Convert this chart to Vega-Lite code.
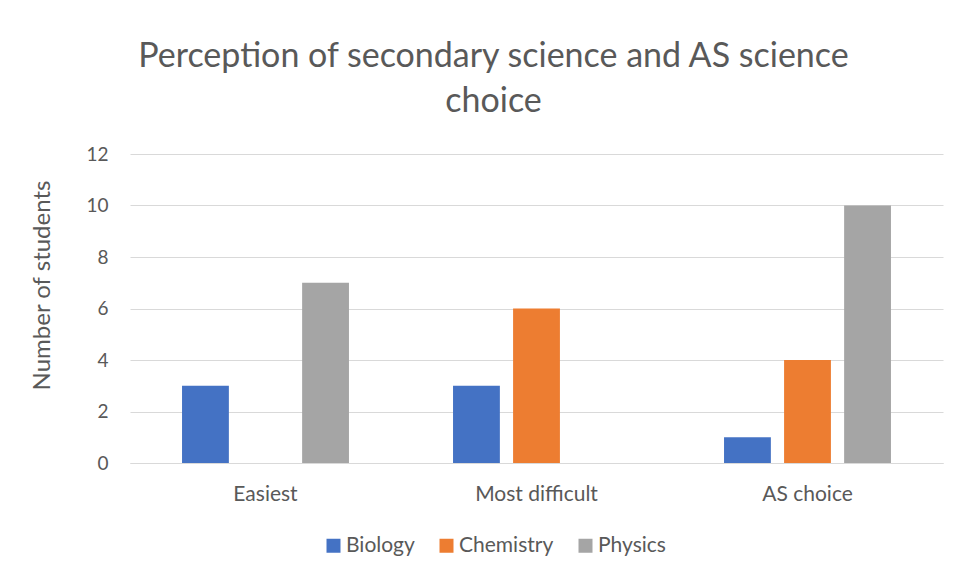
{
  "$schema": "https://vega.github.io/schema/vega-lite/v6.json",
  "width": 813,
  "height": 309,
  "autosize": {"type": "none"},
  "padding": {"left": 130, "top": 154, "right": 17, "bottom": 116},
  "background": "white",
  "title": {
    "text": ["Perception of secondary science and AS science", "choice"],
    "anchor": "middle",
    "dx": -43,
    "offset": 26,
    "fontSize": 34,
    "font": "Lato",
    "fontWeight": "normal",
    "color": "#595959",
    "lineHeight": 45
  },
  "data": {
    "values": [
      {"category": "Easiest", "subject": "Biology", "students": 3},
      {"category": "Easiest", "subject": "Chemistry", "students": 0},
      {"category": "Easiest", "subject": "Physics", "students": 7},
      {"category": "Most difficult", "subject": "Biology", "students": 3},
      {"category": "Most difficult", "subject": "Chemistry", "students": 6},
      {"category": "Most difficult", "subject": "Physics", "students": 0},
      {"category": "AS choice", "subject": "Biology", "students": 1},
      {"category": "AS choice", "subject": "Chemistry", "students": 4},
      {"category": "AS choice", "subject": "Physics", "students": 10}
    ]
  },
  "mark": {"type": "bar"},
  "encoding": {
    "x": {
      "field": "category",
      "type": "nominal",
      "sort": ["Easiest", "Most difficult", "AS choice"],
      "scale": {"paddingInner": 0.384, "paddingOuter": 0.192},
      "axis": {
        "title": null,
        "labelAngle": 0,
        "ticks": false,
        "labelPadding": 20,
        "labelFontSize": 21,
        "labelFont": "Lato",
        "labelColor": "#595959",
        "domainColor": "#d9d9d9",
        "grid": false
      }
    },
    "xOffset": {
      "field": "subject",
      "type": "nominal",
      "sort": ["Biology", "Chemistry", "Physics"],
      "scale": {"paddingInner": 0.22, "paddingOuter": 0}
    },
    "y": {
      "field": "students",
      "type": "quantitative",
      "scale": {"domain": [0, 12]},
      "axis": {
        "title": "Number of students",
        "values": [0, 2, 4, 6, 8, 10, 12],
        "ticks": false,
        "domain": false,
        "gridColor": "#d9d9d9",
        "labelPadding": 22,
        "labelFontSize": 19,
        "labelFont": "Lato",
        "labelColor": "#595959",
        "titleFont": "Lato",
        "titleFontSize": 24,
        "titleFontWeight": "normal",
        "titleColor": "#595959",
        "titlePadding": 31,
        "titleY": 131
      }
    },
    "color": {
      "field": "subject",
      "type": "nominal",
      "sort": ["Biology", "Chemistry", "Physics"],
      "scale": {"domain": ["Biology", "Chemistry", "Physics"], "range": ["#4472C4", "#ED7D31", "#A5A5A5"]},
      "legend": {
        "title": null,
        "orient": "none",
        "direction": "horizontal",
        "legendX": 193,
        "legendY": 381,
        "symbolType": "square",
        "symbolSize": 196,
        "symbolStrokeWidth": 0,
        "labelFontSize": 21,
        "labelFont": "Lato",
        "labelColor": "#595959",
        "labelOffset": 2,
        "columnPadding": 21
      }
    }
  },
  "config": {"view": {"stroke": null}}
}
